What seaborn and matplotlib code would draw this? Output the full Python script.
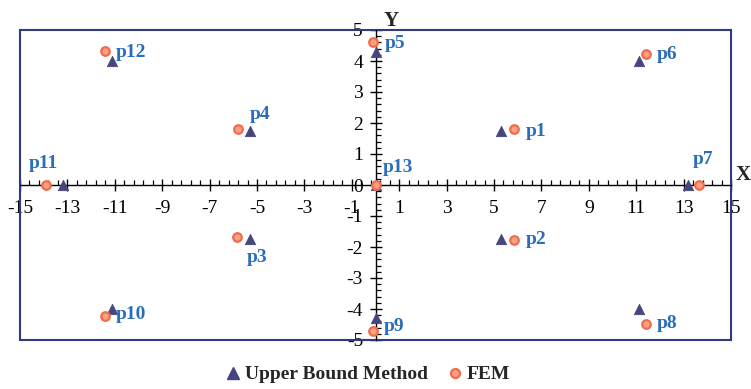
import numpy as np
import pandas as pd
import matplotlib
matplotlib.use("Agg")
import matplotlib.pyplot as plt
from matplotlib.ticker import FixedLocator, MultipleLocator
from matplotlib.patches import Rectangle
from matplotlib.lines import Line2D
import seaborn as sns

# Point names and coordinates for both methods
points = ["p1", "p2", "p3", "p4", "p5", "p6", "p7", "p8", "p9", "p10", "p11", "p12", "p13"]
ubm_x = [5.3, 5.3, -5.3, -5.3, 0.0, 11.1, 13.2, 11.1, 0.0, -11.1, -13.2, -11.1, 0.0]
ubm_y = [1.75, -1.75, -1.75, 1.75, 4.3, 4.0, 0.0, -4.0, -4.3, -4.0, 0.0, 4.0, 0.0]
fem_x = [5.85, 5.85, -5.85, -5.8, -0.1, 11.4, 13.65, 11.4, -0.1, -11.4, -13.9, -11.4, 0.0]
fem_y = [1.82, -1.77, -1.68, 1.8, 4.6, 4.22, 0.0, -4.48, -4.7, -4.22, 0.0, 4.32, 0.0]
x_ticks = [-15, -13, -11, -9, -7, -5, -3, -1, 1, 3, 5, 7, 9, 11, 13, 15]
y_ticks = [-5, -4, -3, -2, -1, 0, 1, 2, 3, 4, 5]

# Label offsets (pixels) from each FEM point
label_offsets = {
    "p1": (12, -3), "p2": (12, 0), "p3": (10, -20), "p4": (12, 15),
    "p5": (12, -1), "p6": (11, 0), "p7": (-6, 25), "p8": (11, 0),
    "p9": (11, 4), "p10": (10, 1), "p11": (-17, 22), "p12": (10, -1),
    "p13": (7, 17),
}

UBM_COLOR = "#46467e"
FEM_EDGE = "#f26b4a"
FEM_FACE = "#f8a184"
LABEL_COLOR = "#2a6ebb"
FRAME_COLOR = "#2f3a80"

sns.set_style("white")
plt.rcParams["font.family"] = ["Liberation Serif", "DejaVu Serif"]

ubm = pd.DataFrame({"x": ubm_x, "y": ubm_y, "point": points})
fem = pd.DataFrame({"x": fem_x, "y": fem_y, "point": points})

fig, ax = plt.subplots(figsize=(7.51, 3.89), dpi=100)
fig.subplots_adjust(left=20 / 751, right=731 / 751, bottom=49 / 389, top=359 / 389)

sns.scatterplot(data=ubm, x="x", y="y", marker="^", s=55, color=UBM_COLOR,
                edgecolor=UBM_COLOR, linewidth=0.6, ax=ax, zorder=4, legend=False)
sns.scatterplot(data=fem, x="x", y="y", marker="o", s=38, color=FEM_FACE,
                edgecolor=FEM_EDGE, linewidth=1.6, ax=ax, zorder=5, legend=False)

for name, px, py in zip(points, fem_x, fem_y):
    dx, dy = label_offsets[name]
    ax.annotate(name, xy=(px, py), xytext=(dx, dy), textcoords="offset pixels",
                ha="left", va="center", fontsize=14, fontweight="bold",
                color=LABEL_COLOR, zorder=6)

ax.set_xlim(-15, 15)
ax.set_ylim(-5, 5)
ax.set_xlabel("")
ax.set_ylabel("")

# Axes crossing at the origin
for side in ("top", "right"):
    ax.spines[side].set_visible(False)
ax.spines["left"].set_position(("data", 0))
ax.spines["bottom"].set_position(("data", 0))
ax.spines["left"].set_color("black")
ax.spines["bottom"].set_color("black")
ax.spines["left"].set_linewidth(1.0)
ax.spines["bottom"].set_linewidth(1.0)

ax.xaxis.set_major_locator(FixedLocator(x_ticks))
ax.xaxis.set_minor_locator(FixedLocator(np.arange(-15, 15.01, 0.4)))
ax.yaxis.set_major_locator(FixedLocator(y_ticks))
ax.yaxis.set_minor_locator(MultipleLocator(0.2))
ax.set_xticklabels([str(t) for t in x_ticks])
ax.set_yticklabels([str(t) for t in y_ticks])

ax.tick_params(which="major", direction="inout", length=8, width=1.0,
               colors="black", labelsize=14)
ax.tick_params(which="minor", direction="in", length=3.5, width=0.9, colors="black")
ax.tick_params(axis="x", which="major", pad=7)
ax.tick_params(axis="y", which="major", pad=5)
ax.tick_params(axis="x", which="both", bottom=True, top=False)
ax.tick_params(axis="y", which="both", left=True, right=False)

# Outer frame of the plot area
ax.add_patch(Rectangle((0, 0), 1, 1, transform=ax.transAxes, fill=False,
                       edgecolor=FRAME_COLOR, linewidth=1.5, zorder=1, clip_on=False))

ax.text(1.017, 0.532, "X", transform=ax.transAxes, ha="center", va="center",
        fontsize=15, fontweight="bold")
ax.text(0.522, 1.03, "Y", transform=ax.transAxes, ha="center", va="center",
        fontsize=15, fontweight="bold")

handles = [
    Line2D([], [], linestyle="none", marker="^", markersize=8,
           markerfacecolor=UBM_COLOR, markeredgecolor=UBM_COLOR),
    Line2D([], [], linestyle="none", marker="o", markersize=6.5,
           markerfacecolor=FEM_FACE, markeredgecolor=FEM_EDGE, markeredgewidth=1.6),
]
fig.legend(handles, ["Upper Bound Method", "FEM"], loc="center",
           bbox_to_anchor=(0.488, 0.037), ncol=2, frameon=False,
           prop={"weight": "bold", "size": 14}, handletextpad=0.1,
           columnspacing=0.9, handlelength=1.0)

fig.savefig("out.png", dpi=100)
